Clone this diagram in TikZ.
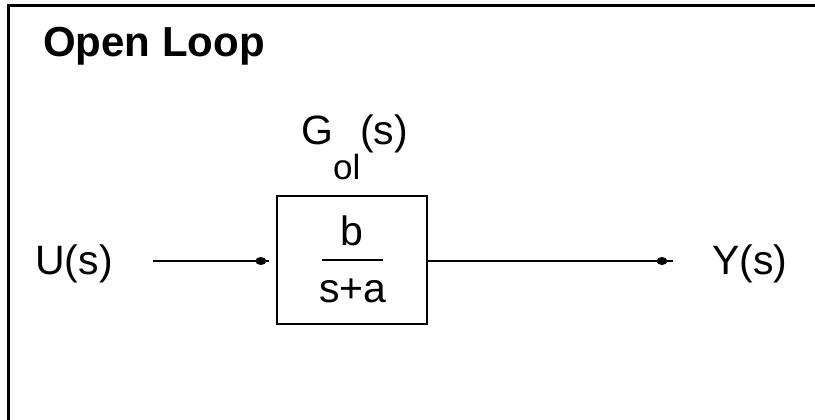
\documentclass[tikz,border=0pt]{standalone}
\usepackage{fontspec}
\setmainfont{Liberation Sans}
\usetikzlibrary{shapes.geometric}
\begin{document}
\begin{tikzpicture}[x=1pt,y=-1pt,
  lbl/.style={inner sep=0pt,font=\fontsize{41}{41}\selectfont},
  blockbox/.style={draw,line width=2pt,minimum width=150pt,minimum height=128pt,inner sep=0pt},
  conn/.style={line width=2pt},
  dotmark/.style={ellipse,fill=black,minimum width=11pt,minimum height=8pt,inner sep=0pt,sloped}
]
\useasboundingbox (0,0) rectangle (815,420);
\draw[line width=3pt] (8.5,421) -- (8.5,5.5) -- (816,5.5);
\node[anchor=base west,inner sep=0pt,font=\fontsize{42}{42}\selectfont\bfseries] (title) at (43,57) {Open Loop};
\node[blockbox] (box) at (352,260) {};
\node[lbl,anchor=base] (num) at (352,245) {b};
\coordinate (barl) at (322,260);
\coordinate (barr) at (383,260);
\draw[conn] (barl) -- (barr);
\node[lbl,anchor=base] (den) at (353,302) {s+a};
\node[lbl,anchor=base west] (gol) at (301,145) {G\raisebox{-35pt}{\fontsize{35}{35}\selectfont ol}(s)};
\node[lbl,anchor=base east] (u) at (113,274) {U(s)};
\node[lbl,anchor=base west] (y) at (712,274) {Y(s)};
\coordinate (uin) at (153,261);
\coordinate (yout) at (673,261);
\draw[conn] (uin) -- ([xshift=-7pt]box.west |- uin) node[dotmark,pos=0.93]{};
\draw[conn] (box.east |- yout) -- (yout) node[dotmark,pos=0.955]{};
\end{tikzpicture}
\end{document}
